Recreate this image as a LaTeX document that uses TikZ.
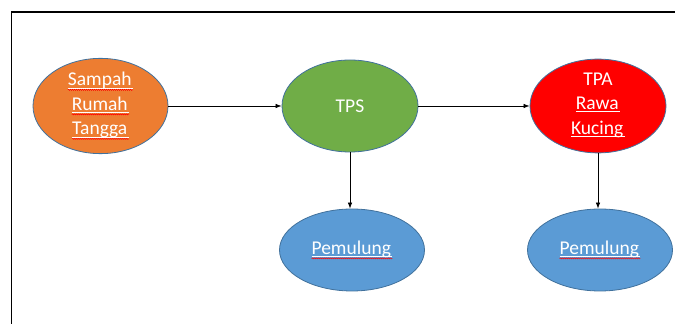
\documentclass[tikz,border=0pt]{standalone}
\usepackage{fontspec}
\setmainfont{Carlito}
\usetikzlibrary{shapes.geometric,arrows.meta,decorations.pathmorphing}

\definecolor{sampahorange}{HTML}{ED7D31}
\definecolor{tpsgreen}{HTML}{70AD47}
\definecolor{tpared}{HTML}{FF0000}
\definecolor{pemblue}{HTML}{5B9BD5}
\definecolor{rimblue}{HTML}{41719C}

% underlined word with a red spell-check wave
\newcommand{\spell}[1]{\tikz[baseline=(w.base)]{%
		\node[rectangle, draw=none, fill=none, minimum width=0pt, minimum height=0pt,
		inner sep=0pt, outer sep=0pt] (w) {#1};
		\draw[white, line width=0.7pt] ([yshift=-2pt]w.base west) -- ([xshift=1.5pt,yshift=-2pt]w.base east);
		\draw[red, line width=0.45pt, decorate, decoration={snake, amplitude=0.6pt, segment length=2pt}]
		([yshift=-4pt]w.base west) -- ([xshift=1.5pt,yshift=-4pt]w.base east);}}

\begin{document}
\begin{tikzpicture}[x=1pt,y=1pt,
	blob/.style={ellipse, draw=rimblue, line width=0.8pt, inner sep=0pt,
		text=white, align=center, font=\fontsize{19.5}{24.5}\selectfont},
	flow/.style={-{Latex[length=6pt,width=4.5pt]}, line width=0.7pt}]
	
	\useasboundingbox (0,0) rectangle (675,324);
	\draw[line width=1.8pt] (11.5,0) |- (675,312);
	
	\foreach \name/\x/\y/\w/\h/\col/\txt in {
		hh/100.5/218/135/92/sampahorange/{\spell{Sampah}\\\spell{Rumah}\\\spell{Tangga}},
		tps/350/218/136/92/tpsgreen/{TPS},
		tpa/598/218/136/92/tpared/{TPA\\\spell{Rawa}\\\spell{Kucing}},
		pem1/352/74/145/82/pemblue/{\spell{Pemulung}},
		pem2/600/74/145/82/pemblue/{\spell{Pemulung}}}
	{
		\node[blob, fill=\col, minimum width=\w, minimum height=\h] (\name) at (\x,\y) {\txt};
	};
	
	\draw[flow] (hh) -- (tps);
	\draw[flow] (tps) -- (tpa);
	\draw[flow] (tps.south) -- (tps.south |- pem1.north);
	\draw[flow] (tpa.south) -- (tpa.south |- pem2.north);
	
\end{tikzpicture}
\end{document}
